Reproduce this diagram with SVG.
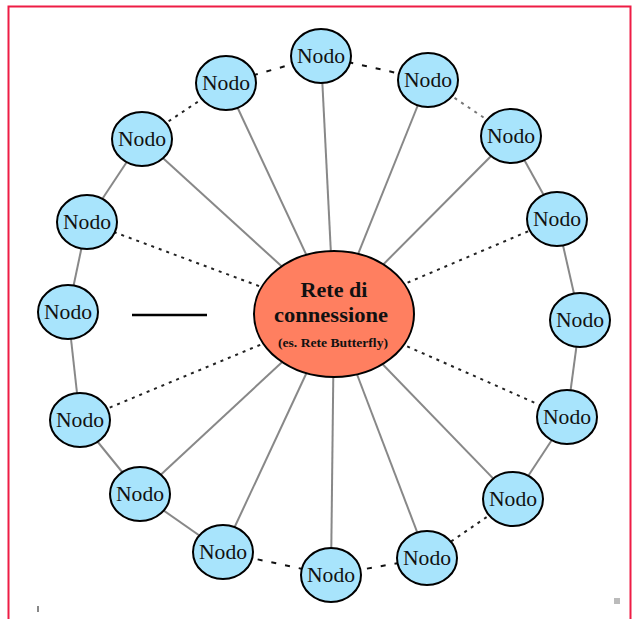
<svg xmlns="http://www.w3.org/2000/svg" width="633" height="619" viewBox="0 0 633 619">
<defs>
<style>
.solid{stroke:#888;stroke-width:2;fill:none}
.dot{stroke:#222;stroke-width:2;stroke-dasharray:3 5;fill:none}
.dash{stroke:#111;stroke-width:2;stroke-dasharray:5 9;fill:none}
.node ellipse{fill:#a8e4fc;stroke:#000;stroke-width:2}
.node text{font-family:"Liberation Serif",serif;font-size:21px;fill:#111;text-anchor:middle}
.hub ellipse{fill:#ff7f60;stroke:#000;stroke-width:2}
.hub text{font-family:"Liberation Serif",serif;font-weight:bold;fill:#111;text-anchor:middle}
</style>
</defs>
<rect x="8.5" y="6.5" width="622" height="640" fill="#fff" stroke="#ee1c45" stroke-width="2"/>
<g id="connectors">
<line class="dash" x1="321" y1="56" x2="428" y2="80"/>
<line class="dot" x1="428" y1="80" x2="511" y2="136" style="stroke:#777"/>
<line class="solid" x1="511" y1="136" x2="557" y2="219"/>
<line class="solid" x1="557" y1="219" x2="580" y2="320"/>
<line class="solid" x1="580" y1="320" x2="567" y2="417"/>
<line class="solid" x1="567" y1="417" x2="513" y2="499"/>
<line class="dot" x1="513" y1="499" x2="427" y2="558"/>
<line class="dash" x1="427" y1="558" x2="331" y2="575"/>
<line class="dash" x1="331" y1="575" x2="223" y2="552"/>
<line class="solid" x1="223" y1="552" x2="140" y2="494"/>
<line class="solid" x1="140" y1="494" x2="80" y2="420"/>
<line class="solid" x1="80" y1="420" x2="68" y2="312"/>
<line class="solid" x1="68" y1="312" x2="87" y2="222"/>
<line class="solid" x1="87" y1="222" x2="142" y2="139"/>
<line class="dot" x1="142" y1="139" x2="226" y2="83"/>
<line class="dash" x1="226" y1="83" x2="321" y2="56"/>
<line class="solid" x1="334" y1="314" x2="321" y2="56"/>
<line class="solid" x1="334" y1="314" x2="226" y2="83"/>
<line class="solid" x1="334" y1="314" x2="428" y2="80"/>
<line class="solid" x1="334" y1="314" x2="511" y2="136"/>
<line class="dot" x1="334" y1="314" x2="557" y2="219"/>
<line class="dot" x1="334" y1="314" x2="567" y2="417"/>
<line class="solid" x1="334" y1="314" x2="513" y2="499"/>
<line class="solid" x1="334" y1="314" x2="427" y2="558"/>
<line class="solid" x1="334" y1="314" x2="331" y2="575"/>
<line class="solid" x1="334" y1="314" x2="223" y2="552"/>
<line class="solid" x1="334" y1="314" x2="140" y2="494"/>
<line class="dot" x1="334" y1="314" x2="80" y2="420"/>
<line class="dot" x1="334" y1="314" x2="87" y2="222"/>
<line class="solid" x1="334" y1="314" x2="142" y2="139"/>
<line x1="132" y1="315" x2="207" y2="315" stroke="#000" stroke-width="2.5"/>
</g>
<g id="hub" class="hub">
<ellipse cx="334" cy="314" rx="80" ry="63"/>
<text x="334" y="297" font-size="22" textLength="67" lengthAdjust="spacingAndGlyphs">Rete di</text>
<text x="331" y="322" font-size="22" textLength="114" lengthAdjust="spacingAndGlyphs">connessione</text>
<text x="333" y="347" font-size="13" textLength="110" lengthAdjust="spacingAndGlyphs">(es. Rete Butterfly)</text>
</g>
<g id="n1" class="node"><ellipse cx="321" cy="56" rx="30" ry="27"/><text x="321" y="63" textLength="48" lengthAdjust="spacingAndGlyphs">Nodo</text></g>
<g id="n2" class="node"><ellipse cx="226" cy="83" rx="30" ry="27"/><text x="226" y="90" textLength="48" lengthAdjust="spacingAndGlyphs">Nodo</text></g>
<g id="n3" class="node"><ellipse cx="428" cy="80" rx="30" ry="27"/><text x="428" y="87" textLength="48" lengthAdjust="spacingAndGlyphs">Nodo</text></g>
<g id="n4" class="node"><ellipse cx="142" cy="139" rx="30" ry="27"/><text x="142" y="146" textLength="48" lengthAdjust="spacingAndGlyphs">Nodo</text></g>
<g id="n5" class="node"><ellipse cx="511" cy="136" rx="30" ry="27"/><text x="511" y="143" textLength="48" lengthAdjust="spacingAndGlyphs">Nodo</text></g>
<g id="n6" class="node"><ellipse cx="87" cy="222" rx="30" ry="27"/><text x="87" y="229" textLength="48" lengthAdjust="spacingAndGlyphs">Nodo</text></g>
<g id="n7" class="node"><ellipse cx="557" cy="219" rx="30" ry="27"/><text x="557" y="226" textLength="48" lengthAdjust="spacingAndGlyphs">Nodo</text></g>
<g id="n8" class="node"><ellipse cx="68" cy="312" rx="30" ry="27"/><text x="68" y="319" textLength="48" lengthAdjust="spacingAndGlyphs">Nodo</text></g>
<g id="n9" class="node"><ellipse cx="580" cy="320" rx="30" ry="27"/><text x="580" y="327" textLength="48" lengthAdjust="spacingAndGlyphs">Nodo</text></g>
<g id="n10" class="node"><ellipse cx="80" cy="420" rx="30" ry="27"/><text x="80" y="427" textLength="48" lengthAdjust="spacingAndGlyphs">Nodo</text></g>
<g id="n11" class="node"><ellipse cx="567" cy="417" rx="30" ry="27"/><text x="567" y="424" textLength="48" lengthAdjust="spacingAndGlyphs">Nodo</text></g>
<g id="n12" class="node"><ellipse cx="140" cy="494" rx="30" ry="27"/><text x="140" y="501" textLength="48" lengthAdjust="spacingAndGlyphs">Nodo</text></g>
<g id="n13" class="node"><ellipse cx="513" cy="499" rx="30" ry="27"/><text x="513" y="506" textLength="48" lengthAdjust="spacingAndGlyphs">Nodo</text></g>
<g id="n14" class="node"><ellipse cx="223" cy="552" rx="30" ry="27"/><text x="223" y="559" textLength="48" lengthAdjust="spacingAndGlyphs">Nodo</text></g>
<g id="n15" class="node"><ellipse cx="427" cy="558" rx="30" ry="27"/><text x="427" y="565" textLength="48" lengthAdjust="spacingAndGlyphs">Nodo</text></g>
<g id="n16" class="node"><ellipse cx="331" cy="575" rx="30" ry="27"/><text x="331" y="582" textLength="48" lengthAdjust="spacingAndGlyphs">Nodo</text></g>
<rect x="37" y="606" width="2" height="6" fill="#888"/>
<rect x="614" y="598" width="6" height="6" fill="#bbb"/>
</svg>
